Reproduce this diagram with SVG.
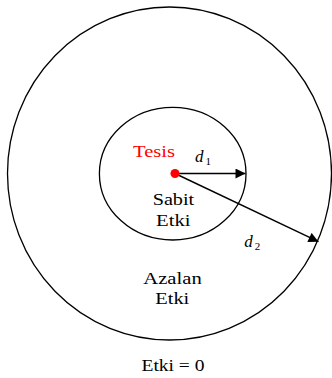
<svg xmlns="http://www.w3.org/2000/svg" width="332" height="378" viewBox="0 0 332 378">
<style>
.c{fill:none;stroke:#000;stroke-width:1.3}
.t{font-size:17px;fill:#000}
.d{font-size:17px;font-style:italic;fill:#000}
.s{font-size:11px;fill:#000}
.a{stroke:#000;stroke-width:1.4;fill:none}
</style>
<defs>
<marker id="ah" viewBox="0 0 10 10" refX="10" refY="5" markerWidth="11" markerHeight="10" markerUnits="userSpaceOnUse" orient="auto">
<path d="M0,0 L10,5 L0,10 z" fill="#000"/>
</marker>
</defs>
<g id="outer"><ellipse class="c" cx="169.5" cy="173.5" rx="162" ry="166.5"/></g>
<g id="inner"><ellipse class="c" cx="172.7" cy="173.7" rx="73.3" ry="66.3"/></g>
<g id="connectors">
<line class="a" x1="175" y1="173.5" x2="245.5" y2="173.5" marker-end="url(#ah)"/>
<line class="a" x1="175" y1="173.5" x2="318.5" y2="241.7" marker-end="url(#ah)"/>
</g>
<g font-family="Liberation Serif, Times New Roman, serif">
<g id="tesis">
<circle cx="175" cy="173.5" r="4.5" fill="#f00"/>
<text class="t" x="133" y="156.7" textLength="42" lengthAdjust="spacingAndGlyphs" style="fill:#f00">Tesis</text>
</g>
<g id="labels">
<text class="d" x="195" y="161.7">d</text><text class="s" x="205.5" y="164.5">1</text>
<text class="d" x="244.3" y="246.7">d</text><text class="s" x="254.8" y="249.5">2</text>
<text class="t" x="152.7" y="205" textLength="41.5" lengthAdjust="spacingAndGlyphs">Sabit</text>
<text class="t" x="156" y="225.5" textLength="34.5" lengthAdjust="spacingAndGlyphs">Etki</text>
<text class="t" x="143.3" y="284.3" textLength="58.4" lengthAdjust="spacingAndGlyphs">Azalan</text>
<text class="t" x="155.3" y="304" textLength="34" lengthAdjust="spacingAndGlyphs">Etki</text>
<text class="t" x="141.5" y="371" textLength="63" lengthAdjust="spacingAndGlyphs">Etki = 0</text>
</g>
</g>
</svg>
